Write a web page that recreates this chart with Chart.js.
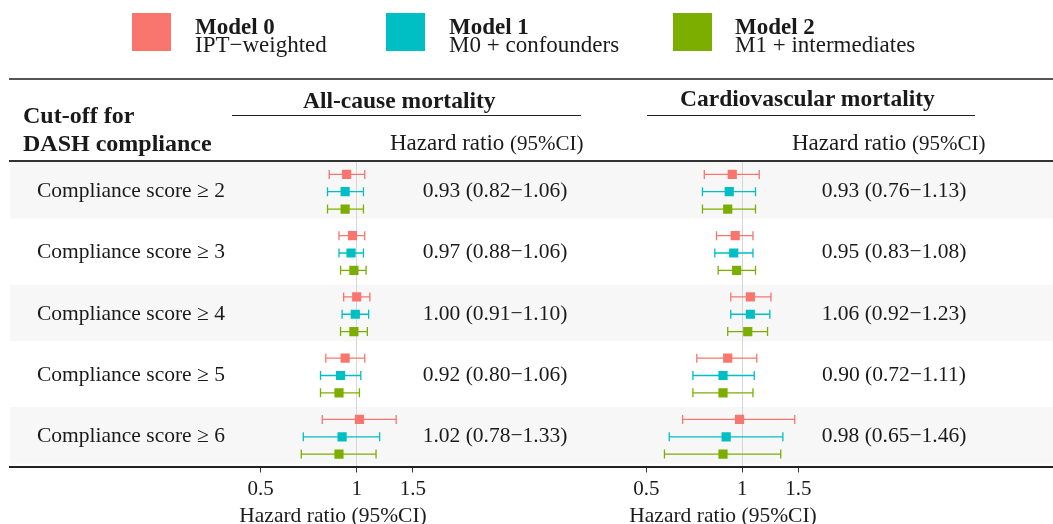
<!DOCTYPE html>
<html>
<head>
<meta charset="utf-8">
<script src="https://cdn.jsdelivr.net/npm/chart.js@4.4.1/dist/chart.umd.min.js"></script>
<style>
  body { margin: 0; background: #fff; font-family: "Liberation Serif", "Times New Roman", serif; color: #1a1a1a; }
  #wrap { position: relative; width: 1053px; height: 524px; overflow: hidden; }
  canvas { position: absolute; left: 0; top: 0; }
  .t { position: absolute; white-space: nowrap; line-height: 1; }
  .b { font-weight: bold; }
  .sq { position: absolute; width: 39px; height: 38px; }
  .ln { position: absolute; }
</style>
</head>
<body>
<div id="wrap">
  <canvas id="allCause" width="1053" height="527"></canvas>
  <canvas id="cardio" width="1053" height="527"></canvas>

  <!-- legend -->
  <div class="sq" style="left:132px;top:13px;background:#F8766D"></div>
  <div class="t b" style="left:195px;top:15px;font-size:23px">Model 0</div>
  <div class="t" style="left:195px;top:33px;font-size:23px">IPT−weighted</div>
  <div class="sq" style="left:386px;top:13px;background:#00BFC4"></div>
  <div class="t b" style="left:449px;top:15px;font-size:23px">Model 1</div>
  <div class="t" style="left:449px;top:33px;font-size:23px">M0 + confounders</div>
  <div class="sq" style="left:673px;top:13px;background:#7CAE00"></div>
  <div class="t b" style="left:735px;top:15px;font-size:23px">Model 2</div>
  <div class="t" style="left:735px;top:33px;font-size:23px">M1 + intermediates</div>

  <!-- table header -->
  <div class="ln" style="left:9px;top:78px;width:1044px;height:2px;background:#555"></div>
  <div class="t b" style="left:23px;top:103px;font-size:24px">Cut-off for</div>
  <div class="t b" style="left:23px;top:130.5px;font-size:24px">DASH compliance</div>
  <div class="t b" style="left:303px;top:88.5px;font-size:23.5px">All-cause mortality</div>
  <div class="ln" style="left:232px;top:115px;width:349px;height:1.3px;background:#222"></div>
  <div class="t b" style="left:680px;top:87px;font-size:23.5px">Cardiovascular mortality</div>
  <div class="ln" style="left:647px;top:115px;width:328px;height:1.3px;background:#222"></div>
  <div class="t" style="left:390px;top:130.5px;font-size:23px">Hazard ratio <span style="font-size:21px">(95%CI)</span></div>
  <div class="t" style="left:792px;top:130.5px;font-size:23px">Hazard ratio <span style="font-size:21px">(95%CI)</span></div>
  <div class="ln" style="left:9px;top:160px;width:1044px;height:1.5px;background:#333"></div>
  <div class="ln" style="left:9px;top:466px;width:1044px;height:1.6px;background:#222"></div>
</div>

<script>
const cutoffs = ['Compliance score ≥ 2', 'Compliance score ≥ 3', 'Compliance score ≥ 4',
                 'Compliance score ≥ 5', 'Compliance score ≥ 6'];
const models = ['Model 0', 'Model 1', 'Model 2'];
const colors = ['#F8766D', '#00BFC4', '#7CAE00'];
const xTicks = [0.5, 1, 1.5];

// all-cause mortality: hazard ratio, lower and upper 95% CI, one row per model
const allHR = [[0.93, 0.97, 1.00, 0.92, 1.02], [0.92, 0.96, 0.99, 0.89, 0.90], [0.92, 0.98, 0.98, 0.88, 0.88]];
const allLo = [[0.82, 0.88, 0.91, 0.80, 0.78], [0.81, 0.88, 0.90, 0.77, 0.68], [0.81, 0.89, 0.89, 0.77, 0.67]];
const allHi = [[1.06, 1.06, 1.10, 1.06, 1.33], [1.05, 1.05, 1.09, 1.03, 1.18], [1.05, 1.07, 1.08, 1.02, 1.15]];

// cardiovascular mortality
const cvdHR = [[0.93, 0.95, 1.06, 0.90, 0.98], [0.91, 0.94, 1.06, 0.87, 0.89], [0.90, 0.96, 1.04, 0.87, 0.87]];
const cvdLo = [[0.76, 0.83, 0.92, 0.72, 0.65], [0.75, 0.82, 0.92, 0.70, 0.59], [0.75, 0.84, 0.90, 0.70, 0.57]];
const cvdHi = [[1.13, 1.08, 1.23, 1.11, 1.46], [1.10, 1.08, 1.22, 1.09, 1.34], [1.10, 1.10, 1.20, 1.08, 1.32]];

const serif = '"Liberation Serif", "Times New Roman", serif';
const offsets = [-0.283, 0, 0.283];

const fmt = v => v.toFixed(2);
const hrText = (hr, lo, hi, i) => fmt(hr[0][i]) + ' (' + fmt(lo[0][i]) + '−' + fmt(hi[0][i]) + ')';

const errorBars = {
  id: 'errorBars',
  beforeDatasetsDraw(chart) {
    const { ctx, scales: { x, y } } = chart;
    chart.data.datasets.forEach(ds => {
      ctx.save();
      ctx.strokeStyle = ds.borderColor;
      ctx.lineWidth = 1.3;
      ds.data.forEach((p, i) => {
        const x1 = x.getPixelForValue(ds.lo[i]);
        const x2 = x.getPixelForValue(ds.hi[i]);
        const py = y.getPixelForValue(p.y);
        ctx.beginPath();
        ctx.moveTo(x1, py); ctx.lineTo(x2, py);
        ctx.moveTo(x1, py - 4.5); ctx.lineTo(x1, py + 4.5);
        ctx.moveTo(x2, py - 4.5); ctx.lineTo(x2, py + 4.5);
        ctx.stroke();
      });
      ctx.restore();
    });
  }
};

// grey row bands and the text columns, drawn once on the left chart
const rowTable = {
  id: 'rowTable',
  beforeDraw(chart) {
    const { ctx, scales: { y } } = chart;
    ctx.save();
    ctx.fillStyle = '#f7f7f7';
    cutoffs.forEach((c, i) => {
      if (i % 2) return;
      const top = y.getPixelForValue(i - 0.485);
      const bot = y.getPixelForValue(i + 0.44);
      ctx.fillRect(10, top, chart.width - 10, bot - top);
    });
    ctx.restore();
  },
  afterDraw(chart) {
    const { ctx, scales: { y } } = chart;
    ctx.save();
    ctx.fillStyle = '#1a1a1a';
    ctx.font = '21.5px ' + serif;
    ctx.textBaseline = 'alphabetic';
    cutoffs.forEach((c, i) => {
      const py = y.getPixelForValue(i) + 5.5;
      ctx.textAlign = 'left';
      ctx.fillText(c, 37, py);
      ctx.textAlign = 'center';
      ctx.fillText(hrText(allHR, allLo, allHi, i), 495, py);
      ctx.fillText(hrText(cvdHR, cvdLo, cvdHi, i), 894, py);
    });
    ctx.restore();
  }
};

function panel(id, hr, lo, hi, left, right, xmin, xmax, extra) {
  return new Chart(document.getElementById(id), {
    type: 'scatter',
    data: {
      datasets: models.map((m, k) => ({
        label: m,
        data: hr[k].map((v, i) => ({ x: v, y: i + offsets[k] })),
        lo: lo[k],
        hi: hi[k],
        backgroundColor: colors[k],
        borderColor: colors[k],
        borderWidth: 0,
        pointStyle: 'rect',
        pointRadius: 6.5,
        pointHoverRadius: 6.5
      }))
    },
    options: {
      responsive: false,
      animation: false,
      events: [],
      layout: { padding: { left: left, right: 1053 - right, top: 162, bottom: 0 } },
      plugins: { legend: { display: false }, tooltip: { enabled: false } },
      scales: {
        x: {
          type: 'logarithmic',
          min: xmin,
          max: xmax,
          afterBuildTicks: s => { s.ticks = xTicks.map(v => ({ value: v })); },
          ticks: {
            callback: v => String(v),
            font: { family: serif, size: 21, lineHeight: 1 },
            color: '#1a1a1a',
            padding: 6,
            autoSkip: false,
            maxRotation: 0
          },
          grid: {
            color: c => (c.tick && c.tick.value === 1) ? '#d6d6d6' : 'rgba(0,0,0,0)',
            tickColor: '#333',
            tickLength: 6,
            lineWidth: 1
          },
          border: { display: false },
          title: {
            display: true,
            text: 'Hazard ratio (95%CI)',
            font: { family: serif, size: 21.5, lineHeight: 1 },
            color: '#1a1a1a',
            padding: { top: 0, bottom: 0 }
          }
        },
        y: { type: 'linear', display: false, reverse: true, min: -0.485, max: 4.485 }
      }
    },
    plugins: extra
  });
}

panel('allCause', allHR, allLo, allHi, 230, 436, 0.4006, 1.7729, [rowTable, errorBars]);
panel('cardio', cvdHR, cvdLo, cvdHi, 620, 826, 0.4135, 1.830, [errorBars]);
</script>
</body>
</html>
